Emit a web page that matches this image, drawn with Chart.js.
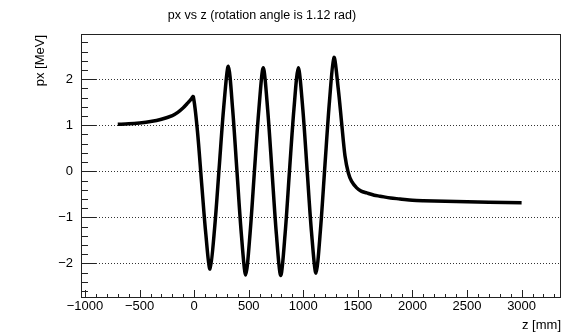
<!DOCTYPE html>
<html>
<head>
<meta charset="utf-8">
<script src="https://cdn.jsdelivr.net/npm/chart.js@4"></script>
<style>
  html, body { margin: 0; padding: 0; background: #fff; }
  #box { width: 568px; height: 334px; }
</style>
</head>
<body>
<div id="box"><canvas id="c"></canvas></div>
<script>
// z positions [mm] and px values [MeV]
const zValues = [-700, -600, -500, -400, -300, -200, -150, -100, -60, -30, -8,
  30, 68, 107, 145, 187, 229, 271, 313, 352, 392, 432, 472, 512, 552, 593, 633,
  673, 713, 753, 793, 833, 873, 914, 954, 995, 1035, 1075, 1116, 1157, 1198, 1240,
  1281, 1321, 1351, 1382, 1412, 1443, 1489, 1530, 1581, 1650, 1703, 1800, 1886,
  2000, 2100, 2300, 2500, 2700, 3000];
const pxValues = [1.02, 1.03, 1.05, 1.08, 1.13, 1.21, 1.28, 1.38, 1.48, 1.56, 1.62,
  0.87, -0.25, -1.37, -2.12, -1.24, 0.08, 1.40, 2.28, 1.36, 0.0, -1.36, -2.25, -1.35, 0.0, 1.35, 2.25,
  1.35, 0.0, -1.36, -2.26, -1.36, 0.0, 1.35, 2.25, 1.36, 0.02, -1.32, -2.21, -1.27, 0.13, 1.53,
  2.47, 1.77, 1.05, 0.33, -0.03, -0.22, -0.36, -0.43, -0.47, -0.52, -0.54, -0.58, -0.60,
  -0.63, -0.64, -0.65, -0.66, -0.67, -0.68];

// tick labels
const xTicks = [-1000, -500, 0, 500, 1000, 1500, 2000, 2500, 3000];
const yTicks = [-2, -1, 0, 1, 2];

const titleText = "px vs z (rotation angle is 1.12 rad)";
const xTitle = "z [mm]";
const yTitle = "px [MeV]";

const FONT = "'Liberation Sans', Arial, sans-serif";

const points = zValues.map((z, i) => ({ x: z, y: pxValues[i] }));

function minusSign(v) {
    return String(v).replace('-', '\u2212');
}

// ROOT-like frame: box, inward ticks, title and axis titles
const rootFrame = {
    id: 'rootFrame',
    afterDraw(chart) {
        const ctx = chart.ctx;
        const a = chart.chartArea;
        const xs = chart.scales.x;
        const ys = chart.scales.y;
        ctx.save();
        ctx.strokeStyle = '#222';
        ctx.lineWidth = 1;
        ctx.strokeRect(a.left + 0.5, a.top + 0.5, a.right - a.left - 1, a.bottom - a.top - 1);

        ctx.beginPath();
        for (let v = -1000; v <= 3300; v += 100) {
            const px = Math.round(xs.getPixelForValue(v)) + 0.5;
            if (px < a.left || px > a.right) continue;
            const len = (v % 500 === 0) ? 8 : 4;
            ctx.moveTo(px, a.bottom);
            ctx.lineTo(px, a.bottom - len);
        }
        for (let k = -14; k <= 15; k++) {
            const v = k / 5;
            const py = Math.round(ys.getPixelForValue(v)) + 0.5;
            if (py < a.top || py > a.bottom) continue;
            const len = (k % 5 === 0) ? 15 : 7;
            ctx.moveTo(a.left, py);
            ctx.lineTo(a.left + len, py);
        }
        ctx.stroke();

        ctx.fillStyle = '#000';
        ctx.font = '12.5px ' + FONT;
        ctx.textBaseline = 'middle';
        ctx.textAlign = 'center';
        ctx.fillText(titleText, 262, 16);

        ctx.font = '13px ' + FONT;
        ctx.textAlign = 'right';
        ctx.fillText(xTitle, a.right, 325);

        ctx.translate(40, a.top + 1);
        ctx.rotate(-Math.PI / 2);
        ctx.textAlign = 'right';
        ctx.fillText(yTitle, 0, 0);
        ctx.restore();
    }
};

new Chart(document.getElementById('c'), {
    type: 'scatter',
    data: {
        datasets: [{
            data: points,
            showLine: true,
            borderColor: '#000',
            borderWidth: 3.5,
            pointRadius: 0,
            tension: 0.3
        }]
    },
    options: {
        responsive: true,
        maintainAspectRatio: false,
        animation: false,
        layout: { padding: { top: 34, right: 7, left: 0, bottom: 0 } },
        plugins: { legend: { display: false }, tooltip: { enabled: false } },
        scales: {
            x: {
                type: 'linear',
                min: -1037,
                max: 3361,
                afterBuildTicks: s => { s.ticks = xTicks.map(v => ({ value: v })); },
                afterFit: s => { s.height = 36; },
                grid: { display: false, drawTicks: false },
                border: { display: false },
                ticks: {
                    color: '#000',
                    font: { family: FONT, size: 13 },
                    padding: 1,
                    maxRotation: 0,
                    autoSkip: false,
                    callback: v => minusSign(v)
                }
            },
            y: {
                type: 'linear',
                min: -2.75,
                max: 2.98,
                afterBuildTicks: s => { s.ticks = yTicks.map(v => ({ value: v })); },
                afterFit: s => { s.width = 81; },
                grid: {
                    drawTicks: false,
                    color: '#333',
                    lineWidth: 1
                },
                border: { display: false, dash: [1, 2] },
                ticks: {
                    color: '#000',
                    font: { family: FONT, size: 13 },
                    padding: 8,
                    autoSkip: false,
                    callback: v => minusSign(v)
                }
            }
        }
    },
    plugins: [rootFrame]
});
</script>
</body>
</html>
